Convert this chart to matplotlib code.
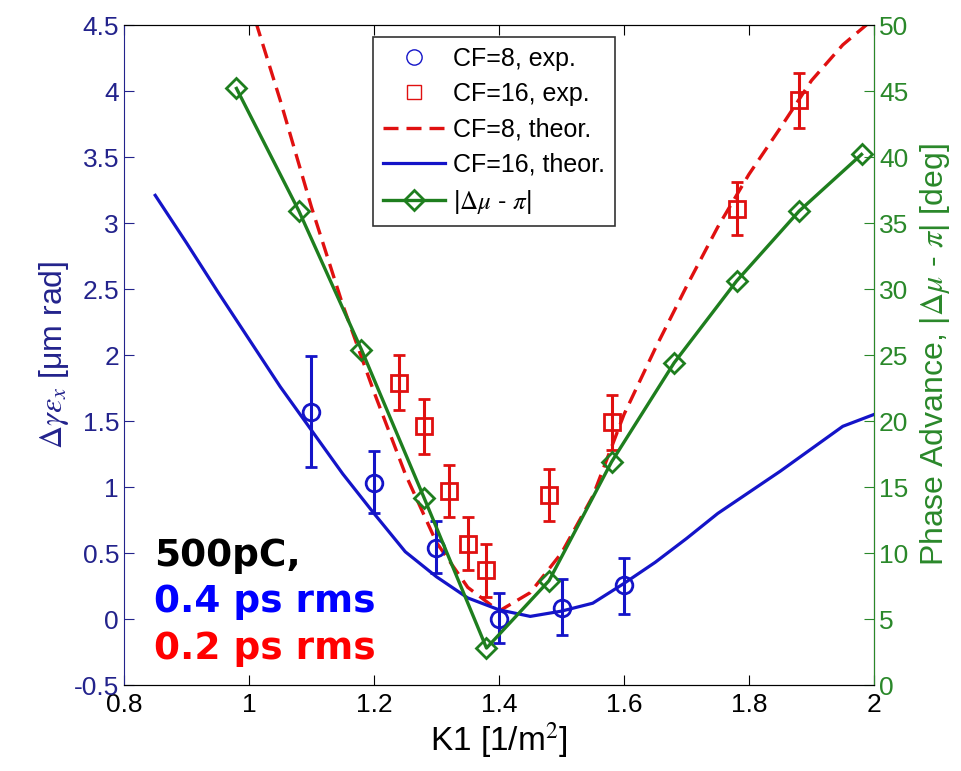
import numpy as np
import matplotlib
matplotlib.use("Agg")
import matplotlib.pyplot as plt
from matplotlib.lines import Line2D

plt.rcParams['font.family'] = ['Liberation Sans', 'DejaVu Sans']
plt.rcParams['mathtext.fontset'] = 'stix'
plt.rcParams['axes.unicode_minus'] = False

# CF=8 experiment (blue circles)
k_cf8 = [1.1, 1.2, 1.3, 1.4, 1.5, 1.6]
em_cf8 = [1.57, 1.03, 0.54, 0.0, 0.08, 0.26]
err_cf8_lo = [0.42, 0.23, 0.19, 0.18, 0.2, 0.22]
err_cf8_hi = [0.42, 0.24, 0.20, 0.2, 0.22, 0.2]

# CF=16 experiment (red squares)
k_cf16 = [1.24, 1.28, 1.32, 1.35, 1.38, 1.48, 1.58, 1.78, 1.88]
em_cf16 = [1.79, 1.46, 0.97, 0.57, 0.37, 0.94, 1.49, 3.11, 3.93]
err_cf16 = [0.21, 0.21, 0.2, 0.2, 0.2, 0.2, 0.21, 0.2, 0.21]

# theory curves
k_theo = [1.0, 1.05, 1.1, 1.15, 1.2, 1.25, 1.3, 1.35, 1.4, 1.45, 1.5,
          1.55, 1.6, 1.65, 1.7, 1.75, 1.8, 1.85, 1.9, 1.95, 2.0]
theo_cf8 = [4.69, 3.93, 3.12, 2.38, 1.72, 1.1, 0.58, 0.24, 0.06, 0.2, 0.5,
            0.93, 1.55, 2.05, 2.52, 2.97, 3.37, 3.72, 4.08, 4.35, 4.55]

k_theo16 = [0.85, 0.9, 0.95, 1.0, 1.05, 1.1, 1.15, 1.2, 1.25, 1.3, 1.35, 1.4,
            1.45, 1.5, 1.55, 1.6, 1.65, 1.7, 1.75, 1.8, 1.85, 1.9, 1.95, 2.0]
theo_cf16 = [3.21, 2.85, 2.48, 2.12, 1.76, 1.43, 1.1, 0.80, 0.51, 0.32, 0.16, 0.07,
             0.02, 0.06, 0.12, 0.27, 0.43, 0.61, 0.8, 0.96, 1.12, 1.29, 1.46, 1.55]

# phase advance |dmu - pi| [deg]
k_phase = [0.98, 1.08, 1.18, 1.28, 1.38, 1.48, 1.58, 1.68, 1.78, 1.88, 1.98]
phase = [45.2, 35.9, 25.4, 14.2, 2.8, 7.9, 16.9, 24.4, 30.6, 35.9, 40.2]

blue = '#1414c8'
red = '#e01010'
green = '#1e7e1e'
navy = '#23238c'
tgreen = '#2a882a'

fig = plt.figure(figsize=(9.61, 7.71), dpi=100)
ax = fig.add_axes([0.129, 0.1115, 0.7805, 0.856])
ax2 = ax.twinx()

ax.plot(k_theo, theo_cf8, '--', color=red, lw=2.4, dashes=(4.5, 2.4))
ax.plot(k_theo16, theo_cf16, '-', color=blue, lw=2.3)
ax.errorbar(k_cf8, em_cf8, yerr=[err_cf8_lo, err_cf8_hi], fmt='o', color=blue,
            mfc='none', mec=blue, ms=12, mew=2, elinewidth=2.2, capsize=4, capthick=2.2)
ax.errorbar(k_cf16, em_cf16, yerr=err_cf16, fmt='s', color=red,
            mfc='none', mec=red, ms=11, mew=2, elinewidth=2.2, capsize=4, capthick=2.2)

ax2.plot(k_phase, phase, '-D', color=green, lw=2.4, mfc='none', mec=green, ms=10, mew=2)

ax.set_xlim(0.8, 2.0)
ax.set_ylim(-0.5, 4.5)
ax2.set_ylim(0, 50)
ax.set_xticks(np.arange(0.8, 2.01, 0.2))
ax.set_xticklabels(['0.8', '1', '1.2', '1.4', '1.6', '1.8', '2'])
ax.set_yticks(np.arange(-0.5, 4.51, 0.5))
ax.set_yticklabels(['-0.5', '0', '0.5', '1', '1.5', '2', '2.5', '3', '3.5', '4', '4.5'])
ax2.set_yticks(np.arange(0, 51, 5))

ax.tick_params(axis='x', direction='in', top=True, labelsize=19, colors='black', length=7, pad=6)
ax.tick_params(axis='y', direction='in', right=False, labelsize=19, colors=navy, length=7)
ax2.tick_params(axis='y', direction='in', labelsize=19, colors=tgreen, length=7)
ax.spines['left'].set_color(navy)
ax2.spines['right'].set_color(tgreen)
ax2.spines['left'].set_visible(False)

ax.set_xlabel('K1 [1/m$^2$]', fontsize=24, labelpad=2)
ax.set_ylabel(r'$\Delta\gamma\varepsilon_x$ [μm rad]', fontsize=23, color=navy, labelpad=2)
ax2.set_ylabel(r'Phase Advance, |$\Delta\mu$ - $\pi$| [deg]', fontsize=23, color=tgreen, labelpad=7)

ann = dict(transform=ax.transAxes, fontsize=27, fontweight='bold', family='DejaVu Sans')
ax.text(0.04, 0.18, '500pC,', color='black', **ann)
ax.text(0.04, 0.11, '0.4 ps rms', color='#0000ff', **ann)
ax.text(0.04, 0.04, '0.2 ps rms', color='#ff0000', **ann)

handles = [
    Line2D([], [], ls='none', marker='o', mfc='none', mec=blue, ms=11, mew=1),
    Line2D([], [], ls='none', marker='s', mfc='none', mec=red, ms=10, mew=1),
    Line2D([], [], ls='--', color=red, lw=2.4, dashes=(4.5, 2.4)),
    Line2D([], [], ls='-', color=blue, lw=2.3),
    Line2D([], [], ls='-', marker='D', color=green, lw=2.4, mfc='none', mec=green, ms=10, mew=2),
]
labels = ['CF=8, exp.', 'CF=16, exp.', 'CF=8, theor.', 'CF=16, theor.',
          r'|$\Delta\mu$ - $\pi$|']
leg = ax2.legend(handles, labels, loc='upper left', bbox_to_anchor=(0.332, 0.982),
                 fontsize=18, frameon=True, fancybox=False, edgecolor='black',
                 handlelength=2.5, handletextpad=0.3, labelspacing=0.45, borderpad=0.4,
                 borderaxespad=0)
leg.get_frame().set_linewidth(1.2)

fig.savefig('out.png', dpi=100)
